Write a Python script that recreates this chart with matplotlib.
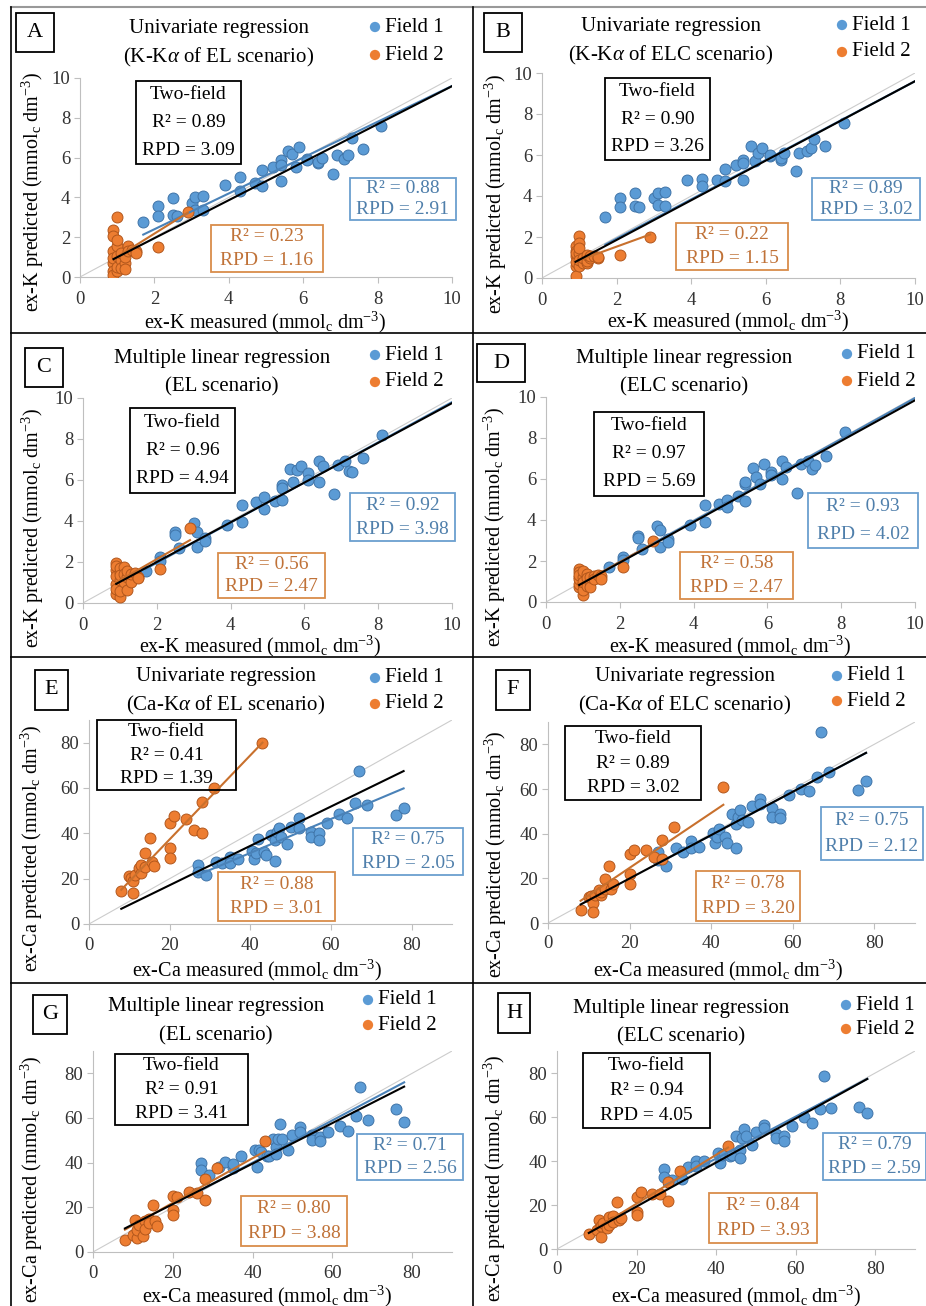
import matplotlib.pyplot as plt
import numpy as np
from matplotlib.patches import Rectangle

plt.switch_backend("Agg")

plt.rcParams["font.family"] = ["Liberation Serif", "DejaVu Serif"]
plt.rcParams["mathtext.fontset"] = "custom"
plt.rcParams["mathtext.rm"] = "Liberation Serif"
plt.rcParams["mathtext.it"] = "Liberation Serif:italic"

W, H = 926, 1306

# ---- data: exchangeable K (panels A-D) ----
K_F1_MEAS = [1.7, 2.1, 2.1, 2.5, 2.5, 2.6, 3.0, 3.1, 3.1, 3.3, 3.3, 3.9, 4.3, 4.3, 4.7, 4.9, 4.9, 5.2, 5.4,
             5.4, 5.4, 5.6, 5.7, 5.8, 5.9, 6.1, 6.1, 6.4, 6.4, 6.5, 6.8, 6.9, 7.1, 7.2, 7.3, 7.6, 8.1]
K_F1_PRED_A = [2.75, 3.55, 3.07, 3.95, 3.12, 3.05, 3.7, 4.0, 3.35, 3.37, 4.07, 4.6, 5.05, 4.3, 4.7, 5.37, 4.55,
               5.55, 5.88, 5.63, 4.8, 6.33, 6.2, 5.55, 6.55, 5.95, 5.9, 5.71, 5.8, 6.0, 5.18, 6.12, 5.95, 6.12,
               7.0, 6.42, 7.6]
K_F1_PRED_B = [3.0, 3.9, 3.47, 4.15, 3.5, 3.47, 3.9, 4.15, 3.58, 4.2, 3.5, 4.76, 4.85, 4.48, 4.8, 5.33, 4.72,
               5.5, 5.78, 5.6, 4.77, 6.43, 5.7, 6.11, 6.35, 5.94, 6.0, 5.75, 5.85, 6.11, 5.21, 6.11, 6.19, 6.35,
               6.76, 6.43, 7.57]
K_F1_PRED_C = [1.57, 2.25, 2.05, 3.44, 3.3, 2.66, 3.88, 3.47, 2.71, 3.15, 3.0, 3.8, 4.78, 3.93, 4.94, 5.19, 4.58,
               4.99, 5.76, 5.6, 5.02, 6.53, 5.92, 6.49, 6.66, 6.33, 6.0, 5.92, 6.93, 6.66, 5.3, 6.74, 6.93, 6.46,
               6.41, 7.06, 8.2]
K_F1_PRED_D = [1.71, 2.2, 2.05, 3.22, 3.1, 2.57, 3.69, 3.5, 2.68, 3.09, 2.95, 3.74, 4.72, 3.9, 4.8, 4.99, 4.63,
               5.17, 5.74, 5.85, 4.93, 6.54, 6.1, 5.74, 6.75, 6.34, 6.18, 5.98, 6.86, 6.59, 5.33, 6.75, 6.86, 6.5,
               6.67, 7.1, 8.29]

K_F2_MEAS = [0.9, 0.9, 0.9, 0.9, 0.9, 0.9, 0.9, 1.0, 1.0, 1.0, 1.0, 1.0, 1.0, 1.1, 1.1, 1.1, 1.2, 1.2, 1.2,
             1.3, 1.3, 1.4, 1.5, 1.5, 2.1, 2.9]
K_F2_PRED_A = [2.37, 2.04, 1.29, 0.7, 0.28, 0.12, 0.95, 3.04, 1.54, 1.04, 0.28, 1.87, 0.5, 0.87, 0.45, 1.2,
               0.7, 1.0, 0.4, 1.54, 1.3, 1.37, 1.29, 1.2, 1.5, 3.26]
K_F2_PRED_B = [1.55, 1.3, 1.06, 0.57, 0.08, 0.8, 1.2, 2.04, 1.71, 1.22, 0.57, 1.47, 0.9, 0.9, 0.75, 1.0,
               0.73, 0.85, 1.1, 0.98, 1.05, 1.06, 1.0, 1.02, 1.14, 2.0]
K_F2_PRED_C = [1.95, 1.6, 0.95, 0.46, 1.3, 0.7, 1.8, 0.3, 1.5, 1.1, 0.6, 1.7, 1.35, 1.76, 1.0, 1.4,
               1.27, 0.62, 1.55, 1.03, 1.4, 1.44, 1.27, 1.2, 1.68, 3.65]
K_F2_PRED_D = [1.6, 1.22, 0.73, 0.9, 1.1, 1.45, 1.3, 0.33, 1.2, 0.9, 0.6, 1.5, 1.0, 1.38, 1.15, 0.8,
               0.98, 0.73, 1.2, 1.25, 1.1, 1.3, 1.25, 1.1, 1.71, 2.96]

# ---- data: exchangeable Ca (panels E-H) ----
CA_F1_MEAS = [27, 27, 29, 31.5, 33, 35, 35, 37, 40.5, 41, 41.5, 42, 43.5, 44, 45, 46, 46, 46.5, 47, 47.5,
              49, 50, 52, 52, 55, 55, 57, 57, 59, 62, 64, 66, 67, 69, 76, 78]
CA_F1_PRED_E = [26.1, 22.9, 21.4, 27.3, 26.8, 29.7, 26.8, 28.7, 32.2, 28.7, 31.2, 37.5, 31.9, 30.5, 39.3,
                37.1, 27.8, 40.7, 42.2, 38.5, 35.2, 42.9, 46.6, 42.2, 40.7, 38.5, 40.0, 37.1, 44.4, 48.4,
                46.6, 53.5, 67.5, 52.5, 48.1, 51.3]
CA_F1_PRED_F = [31.8, 28.1, 25.6, 33.6, 31.8, 36.6, 33.5, 34.1, 40.4, 35.6, 38.6, 42.3, 38.6, 35.6, 48.6,
                44.5, 33.6, 47.5, 50.5, 46.0, 45.3, 52.5, 55.5, 53.1, 51.3, 47.5, 49.0, 47.1, 57.2, 60.2,
                59.2, 65.5, 85.4, 67.7, 59.5, 63.5]
CA_F1_PRED_G = [39.8, 36.8, 34.3, 38.0, 40.5, 37.6, 39.5, 42.8, 45.5, 38.0, 45.5, 44.7, 43.2, 42.8, 50.7,
                46.9, 44.0, 50.7, 57.1, 50.7, 45.8, 52.6, 55.9, 53.7, 52.2, 50.2, 51.4, 49.5, 53.7, 56.2,
                54.1, 61.1, 74.1, 59.2, 64.1, 58.1]
CA_F1_PRED_H = [36.4, 32.6, 31.2, 32.0, 37.1, 39.8, 37.9, 40.2, 43.6, 39.1, 42.9, 43.3, 42.1, 42.9, 51.2,
                45.2, 41.4, 50.5, 54.5, 51.5, 47.1, 53.2, 56.5, 55.0, 52.3, 50.5, 51.2, 48.9, 55.8, 60.0,
                57.3, 63.6, 78.8, 64.1, 64.5, 61.8]

CA_F2_MEAS = [8, 10, 10.5, 11, 11, 11.5, 12.5, 13, 13, 14, 14, 15, 15.5, 16, 20, 20, 20, 21, 24, 26, 28, 28,
              31, 43]
CA_F2_PRED_E = [14.7, 21.0, 20.2, 13.6, 18.8, 21.7, 24.6, 22.4, 26.1, 31.2, 25.3, 38.1, 27.5, 25.8, 33.7,
                29.3, 44.4, 47.8, 46.3, 41.5, 53.9, 40.3, 59.8, 79.9]
CA_F2_PRED_F = [6.0, 11.7, 12.0, 9.1, 4.9, 12.4, 14.6, 12.7, 14.0, 19.6, 15.4, 25.6, 15.4, 17.6, 22.1,
                17.6, 31.1, 32.6, 32.6, 29.6, 37.1, 28.6, 43.0, 61.0]
CA_F2_PRED_G = [5.5, 7.5, 14.5, 6.3, 10.0, 12.0, 7.0, 13.9, 10.5, 15.0, 13.0, 20.9, 13.9, 11.5, 24.9,
                18.6, 16.7, 24.6, 26.8, 26.4, 32.8, 23.1, 37.7, 49.5]
CA_F2_PRED_H = [6.8, 8.5, 13.3, 5.5, 10.3, 12.0, 9.5, 14.5, 11.0, 14.8, 12.5, 21.2, 13.0, 14.0, 23.6,
                16.8, 15.6, 25.9, 25.0, 25.0, 30.5, 22.0, 35.3, 46.7]

# ---- trend lines (slope, intercept), panels A-H ----
F1_SLOPE = [0.90, 0.96, 0.98, 1.00, 0.749, 0.97, 0.947, 0.953]
F1_ICPT = [0.60, 0.00, 0.00, -0.05, 1.4, 0.5, 2.1, 3.0]
F2_SLOPE = [1.17, 0.66, 1.03, 1.00, 1.854, 1.228, 1.00, 1.11]
F2_ICPT = [-0.16, 0.21, 0.08, -0.05, 0.27, 0.13, 2.0, -1.6]
ALL_SLOPE = [0.955, 0.968, 0.969, 0.99, 0.868, 0.97, 0.907, 1.00]
ALL_ICPT = [0.04, -0.08, 0.06, -0.06, -0.24, 0.54, 3.3, -0.7]

# ---- statistics shown in the boxes ----
LETTERS = ["A", "B", "C", "D", "E", "F", "G", "H"]
TITLE_1 = ["Univariate regression", "Univariate regression", "Multiple linear regression",
           "Multiple linear regression", "Univariate regression", "Univariate regression",
           "Multiple linear regression", "Multiple linear regression"]
TITLE_2 = [r"(K-K$\alpha$ of EL scenario)", r"(K-K$\alpha$ of ELC scenario)", "(EL scenario)", "(ELC scenario)",
           r"(Ca-K$\alpha$ of EL scenario)", r"(Ca-K$\alpha$ of ELC scenario)", "(EL scenario)", "(ELC scenario)"]
TWO_R2 = ["0.89", "0.90", "0.96", "0.97", "0.41", "0.89", "0.91", "0.94"]
TWO_RPD = ["3.09", "3.26", "4.94", "5.69", "1.39", "3.02", "3.41", "4.05"]
F1_R2 = ["0.88", "0.89", "0.92", "0.93", "0.75", "0.75", "0.71", "0.79"]
F1_RPD = ["2.91", "3.02", "3.98", "4.02", "2.05", "2.12", "2.56", "2.59"]
F2_R2 = ["0.23", "0.22", "0.56", "0.58", "0.88", "0.78", "0.80", "0.84"]
F2_RPD = ["1.16", "1.15", "2.47", "2.47", "3.01", "3.20", "3.88", "3.93"]

F1_PRED = [K_F1_PRED_A, K_F1_PRED_B, K_F1_PRED_C, K_F1_PRED_D,
           CA_F1_PRED_E, CA_F1_PRED_F, CA_F1_PRED_G, CA_F1_PRED_H]
F2_PRED = [K_F2_PRED_A, K_F2_PRED_B, K_F2_PRED_C, K_F2_PRED_D,
           CA_F2_PRED_E, CA_F2_PRED_F, CA_F2_PRED_G, CA_F2_PRED_H]

BLUE, BLUE_EDGE, BLUE_LINE, BLUE_TXT = "#5b9bd5", "#3f74a8", "#4a82b8", "#4f7fab"
ORANGE, ORANGE_EDGE, ORANGE_LINE, ORANGE_TXT = "#ed7d31", "#b2571c", "#c8702d", "#c07238"
GRID_GREY = "#bfbfbf"

# pixel layout of each panel: axes box, letter box, title, stat boxes, legend, axis labels
LAYOUT = [
    dict(ax=(80, 78, 452, 277), let=(16, 13, 54, 52), title=(219, 29, 57), two=(136, 81, 241, 164),
         blue=(350, 178, 456, 220), orange=(211, 225, 323, 272), leg=(375, 27, 55), xl=(265, 322), yl=(33, 192)),
    dict(ax=(542, 73, 915, 278), let=(484, 13, 522, 52), title=(671, 27, 55), two=(605, 78, 710, 160),
         blue=(812, 178, 920, 220), orange=(676, 223, 788, 270), leg=(842, 25, 52), xl=(728, 321), yl=(496, 194)),
    dict(ax=(83, 398, 452, 603), let=(25, 348, 63, 387), title=(222, 358, 387), two=(130, 408, 235, 493),
         blue=(350, 493, 455, 541), orange=(218, 553, 325, 598), leg=(375, 355, 382), xl=(260, 646), yl=(33, 528)),
    dict(ax=(546, 397, 915, 602), let=(477, 344, 525, 382), title=(684, 359, 387), two=(594, 412, 704, 496),
         blue=(808, 493, 918, 548), orange=(680, 552, 793, 599), leg=(847, 354, 381), xl=(730, 646), yl=(495, 527)),
    dict(ax=(89, 720, 452, 924), let=(35, 670, 68, 710), title=(226, 677, 705), two=(97, 720, 236, 790),
         blue=(353, 828, 463, 875), orange=(218, 872, 335, 921), leg=(375, 678, 704), xl=(257, 970), yl=(32, 848)),
    dict(ax=(548, 722, 915, 923), let=(496, 670, 530, 710), title=(685, 677, 705), two=(565, 726, 701, 800),
         blue=(821, 807, 923, 860), orange=(696, 871, 800, 921), leg=(837, 676, 701), xl=(718, 970), yl=(496, 854)),
    dict(ax=(93, 1051, 452, 1252), let=(33, 995, 67, 1034), title=(216, 1007, 1036), two=(115, 1054, 248, 1125),
         blue=(357, 1134, 463, 1180), orange=(241, 1196, 347, 1246), leg=(368, 1000, 1025), xl=(267, 1296),
         yl=(32, 1179)),
    dict(ax=(557, 1051, 915, 1249), let=(498, 993, 530, 1033), title=(681, 1009, 1037), two=(583, 1053, 710, 1128),
         blue=(823, 1133, 926, 1180), orange=(709, 1193, 817, 1243), leg=(846, 1005, 1029), xl=(736, 1296),
         yl=(495, 1178)),
]

fig = plt.figure(figsize=(W / 100, H / 100), dpi=100)

# overlay in pixel coordinates for boxes, legends and frame lines
over = fig.add_axes([0, 0, 1, 1], zorder=10)
over.set_xlim(0, W)
over.set_ylim(H, 0)
over.axis("off")
over.patch.set_alpha(0)


def draw_box(rect, lines, color, text_color, size):
    l, t, r, b = rect
    over.add_patch(Rectangle((l, t), r - l, b - t, fill=False, edgecolor=color, linewidth=1.3))
    step = (b - t) / len(lines)
    for i, s in enumerate(lines):
        over.text((l + r) / 2, t + step * (i + 0.5), s, ha="center", va="center",
                  fontsize=size, color=text_color)


for i, lay in enumerate(LAYOUT):
    is_k = i < 4
    f1x = np.array(K_F1_MEAS if is_k else CA_F1_MEAS)
    f2x = np.array(K_F2_MEAS if is_k else CA_F2_MEAS)
    f1y = np.array(F1_PRED[i])
    f2y = np.array(F2_PRED[i])
    lim = 10 if is_k else 90

    l, t, r, b = lay["ax"]
    ax = fig.add_axes([l / W, 1 - b / H, (r - l) / W, (b - t) / H])
    ax.set_xlim(0, lim)
    ax.set_ylim(0, lim)
    ax.plot([0, lim], [0, lim], color="#cccccc", lw=0.8, zorder=1)

    ax.scatter(f1x, f1y, s=62, color=BLUE, edgecolor=BLUE_EDGE, linewidth=0.7, zorder=3)
    ax.scatter(f2x, f2y, s=62, color=ORANGE, edgecolor=ORANGE_EDGE, linewidth=0.7, zorder=4)

    # trend lines spanning the measured range of each series
    end = 10 if is_k else f1x.max()
    start_all = min(f1x.min(), f2x.min())
    for k, c, x0, x1, col, z in [
        (F1_SLOPE[i], F1_ICPT[i], f1x.min(), end, BLUE_LINE, 5),
        (F2_SLOPE[i], F2_ICPT[i], f2x.min(), f2x.max(), ORANGE_LINE, 5.5),
        (ALL_SLOPE[i], ALL_ICPT[i], start_all, end, "black", 6),
    ]:
        xx = np.array([x0, x1])
        ax.plot(xx, k * xx + c, color=col, lw=1.5, zorder=z)

    ticks = np.arange(0, 11, 2) if is_k else np.arange(0, 81, 20)
    ax.set_xticks(ticks)
    ax.set_yticks(ticks)
    for side in ["top", "right"]:
        ax.spines[side].set_visible(False)
    for side in ["left", "bottom"]:
        ax.spines[side].set_color(GRID_GREY)
    ax.tick_params(axis="both", direction="out", length=4, color=GRID_GREY,
                   labelsize=13.5, labelcolor="#333333")
    ax.tick_params(axis="x", pad=6 if is_k else 5)
    ax.tick_params(axis="y", pad=3)
    ax.patch.set_alpha(0)

    # panel letter
    lx0, ly0, lx1, ly1 = lay["let"]
    over.add_patch(Rectangle((lx0, ly0), lx1 - lx0, ly1 - ly0, fill=False, edgecolor="black", linewidth=1.3))
    over.text((lx0 + lx1) / 2, (ly0 + ly1) / 2, LETTERS[i], ha="center", va="center", fontsize=16)

    tx, ty1, ty2 = lay["title"]
    over.text(tx, ty1, TITLE_1[i], ha="center", va="center", fontsize=15)
    over.text(tx, ty2, TITLE_2[i], ha="center", va="center", fontsize=15)

    draw_box(lay["two"], ["Two-field", "R² = " + TWO_R2[i], "RPD = " + TWO_RPD[i]], "black", "black", 14)
    draw_box(lay["blue"], ["R² = " + F1_R2[i], "RPD = " + F1_RPD[i]], "#6b9fcf", BLUE_TXT, 14)
    draw_box(lay["orange"], ["R² = " + F2_R2[i], "RPD = " + F2_RPD[i]], "#d98c4a", ORANGE_TXT, 14)

    mx, my1, my2 = lay["leg"]
    over.scatter([mx, mx], [my1, my2], s=55, color=[BLUE, ORANGE], linewidth=0)
    over.text(mx + 10, my1, "Field 1", ha="left", va="center", fontsize=15)
    over.text(mx + 10, my2, "Field 2", ha="left", va="center", fontsize=15)

    name = "ex-K" if is_k else "ex-Ca"
    unit = r"(mmol$_\mathregular{c}$ dm$^\mathregular{-3}$)"
    over.text(lay["xl"][0], lay["xl"][1], name + " measured " + unit, ha="center", va="center", fontsize=14.5)
    over.text(lay["yl"][0], lay["yl"][1], name + " predicted " + unit, ha="center", va="center",
              fontsize=14.5, rotation=90)

# frame lines between panels
over.plot([11, W], [7, 7], color="#999999", lw=1.5)
over.plot([11, 11], [7, H], color="black", lw=1.2)
over.plot([473, 473], [7, H], color="black", lw=1.2)
for yy in [333, 657, 983]:
    over.plot([11, W], [yy, yy], color="black", lw=1.2)

fig.savefig("out.png", dpi=100)
